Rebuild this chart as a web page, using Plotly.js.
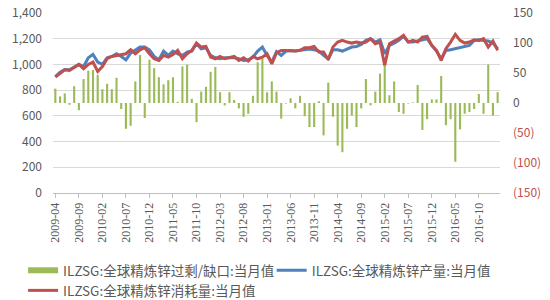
<!DOCTYPE html>
<html>
<head>
<meta charset="utf-8">
<script src="https://cdn.plot.ly/plotly-3.0.1.min.js"></script>
<style>html,body{margin:0;padding:0;background:#fff}#chart{width:550px;height:300px}</style>
</head>
<body>
<div id="chart"></div>
<script>
var months = [
'2009-04','2009-05','2009-06','2009-07','2009-08','2009-09','2009-10','2009-11','2009-12',
'2010-01','2010-02','2010-03','2010-04','2010-05','2010-06','2010-07','2010-08','2010-09','2010-10','2010-11','2010-12',
'2011-01','2011-02','2011-03','2011-04','2011-05','2011-06','2011-07','2011-08','2011-09','2011-10','2011-11','2011-12',
'2012-01','2012-02','2012-03','2012-04','2012-05','2012-06','2012-07','2012-08','2012-09','2012-10','2012-11','2012-12',
'2013-01','2013-02','2013-03','2013-04','2013-05','2013-06','2013-07','2013-08','2013-09','2013-10','2013-11','2013-12',
'2014-01','2014-02','2014-03','2014-04','2014-05','2014-06','2014-07','2014-08','2014-09','2014-10','2014-11','2014-12',
'2015-01','2015-02','2015-03','2015-04','2015-05','2015-06','2015-07','2015-08','2015-09','2015-10','2015-11','2015-12',
'2016-01','2016-02','2016-03','2016-04','2016-05','2016-06','2016-07','2016-08','2016-09','2016-10','2016-11','2016-12',
'2017-01','2017-02'
];

var balance = [
24,11,16,-3,28,-12,40,54,55,47,23,32,23,42,-10,-43,-38,36,80,-25,72,58,43,31,38,43,2,61,64,
7,-32,19,27,52,60,18,-4,18,5,-9,-23,-18,12,68,74,18,36,19,-26,-1,8,-9,12,-22,-40,-40,3,-54,34,
-23,-71,-82,-43,-21,-40,-9,40,-4,19,49,62,13,36,-15,-18,-1,1,30,-45,-27,6,6,45,-37,-27,-98,-44,
-18,-15,-10,15,-18,64,-21,18
];

var production = [
906,940,961,958,979,1000,984,1052,1078,1018,1000,1052,1062,1083,1062,1036,1088,1109,1135,1135,
1114,1062,1036,1104,1070,1104,1083,1070,1096,1104,1161,1122,1130,1070,1052,1044,1052,1052,1052,1044,
1031,1036,1057,1104,1135,1070,1018,1100,1070,1104,1109,1104,1109,1114,1120,1114,1104,1070,1044,1114,
1114,1104,1122,1135,1140,1156,1187,1200,1174,1192,1083,1148,1166,1187,1218,1174,1174,1182,1192,1200,
1148,1104,1044,1109,1114,1122,1135,1140,1148,1187,1192,1187,1182,1166,1122
];

var consumption = [
901,932,958,953,979,1000,966,1000,1018,945,984,1044,1062,1070,1078,1083,1114,1083,1114,1130,
1083,1044,1031,1070,1057,1078,1109,1044,1083,1109,1166,1135,1140,1057,1044,1062,1044,1052,1062,1031,
1052,1026,1062,1044,1057,1083,1005,1090,1109,1109,1104,1104,1109,1130,1130,1140,1096,1096,1036,1135,
1174,1187,1174,1166,1174,1166,1174,1200,1161,1174,992,1161,1182,1200,1226,1174,1187,1174,1213,1218,
1148,1109,1031,1122,1174,1234,1187,1166,1174,1192,1187,1200,1135,1182,1109
];

var tickLabels = ['2009-04','2009-09','2010-02','2010-07','2010-12','2011-05','2011-10','2012-03','2012-08',
'2013-01','2013-06','2013-11','2014-04','2014-09','2015-02','2015-07','2015-12','2016-05','2016-10'];

var rightTickVals = [150,100,50,0,-50,-100,-150];
var rightTickText = ['150','100','50','0','(50)','(100)','(150)'];

var seriesNames = ['ILZSG:全球精炼锌过剩/缺口:当月值','ILZSG:全球精炼锌产量:当月值','ILZSG:全球精炼锌消耗量:当月值'];

var GREEN = '#9BBB59', BLUE = '#4F81BD', RED = '#C0504D';
var TXT = '#595959';
var FONT = '"Noto Sans CJK SC", "Noto Sans", sans-serif';

var rightText = rightTickText.map(function(t, i){
  return rightTickVals[i] < 0 ? '<span style="color:' + RED + '">' + t + '</span>' : t;
});

var traces = [
  {type:'bar', x: months, y: balance, yaxis:'y', marker:{color:GREEN}, showlegend:false, name: seriesNames[0], hoverinfo:'skip'},
  {type:'scatter', mode:'lines', x:[null], y:[null], yaxis:'y', line:{color:GREEN, width:6}, name: seriesNames[0], showlegend:true, legend:'legend'},
  {type:'scatter', mode:'lines', x: months, y: production, yaxis:'y2', line:{color:BLUE, width:3}, name: seriesNames[1], legend:'legend2'},
  {type:'scatter', mode:'lines', x: months, y: consumption, yaxis:'y2', line:{color:RED, width:3}, name: seriesNames[2], legend:'legend3'}
];

var legFont = {family:FONT, size:13.5, color:TXT};
function leg(x, y) {
  return {orientation:'h', xref:'container', yref:'container', x:x, y:y, xanchor:'left', yanchor:'top',
          font:legFont, bgcolor:'rgba(0,0,0,0)', borderwidth:0};
}

var layout = {
  width:550, height:300,
  margin:{l:53, r:50, t:13, b:107},
  paper_bgcolor:'#fff', plot_bgcolor:'#fff',
  font:{family:FONT, size:12, color:TXT},
  bargap:0.55,
  showlegend:true,
  legend: leg(0.042, 0.150),
  legend2: leg(0.494, 0.150),
  legend3: leg(0.042, 0.083),
  xaxis:{type:'category', range:[-0.5, 94.5], tickvals: tickLabels, ticktext: tickLabels, tickangle:-90,
         tickfont:{family:'"Liberation Serif", serif', size:12, color:TXT},
         ticks:'outside', ticklen:4, tickcolor:'#BFBFBF', showline:true, linecolor:'#BFBFBF', linewidth:1,
         showgrid:false, zeroline:false, fixedrange:true},
  yaxis:{side:'right', range:[-150,150], tickvals: rightTickVals, ticktext: rightText, showgrid:false, zeroline:false,
         showline:false, ticks:'', tickfont:{size:12, color:TXT}, ticklabelstandoff:12},
  yaxis2:{overlaying:'y', side:'left', range:[0,1400], dtick:200, tick0:0, tickformat:',', showgrid:true,
          gridcolor:'#D9D9D9', gridwidth:1, zeroline:false, showline:false, ticks:'', tickfont:{size:12, color:TXT},
          ticklabelstandoff:10}
};

Plotly.newPlot('chart', traces, layout, {displayModeBar:false, staticPlot:true});
</script>
</body>
</html>
